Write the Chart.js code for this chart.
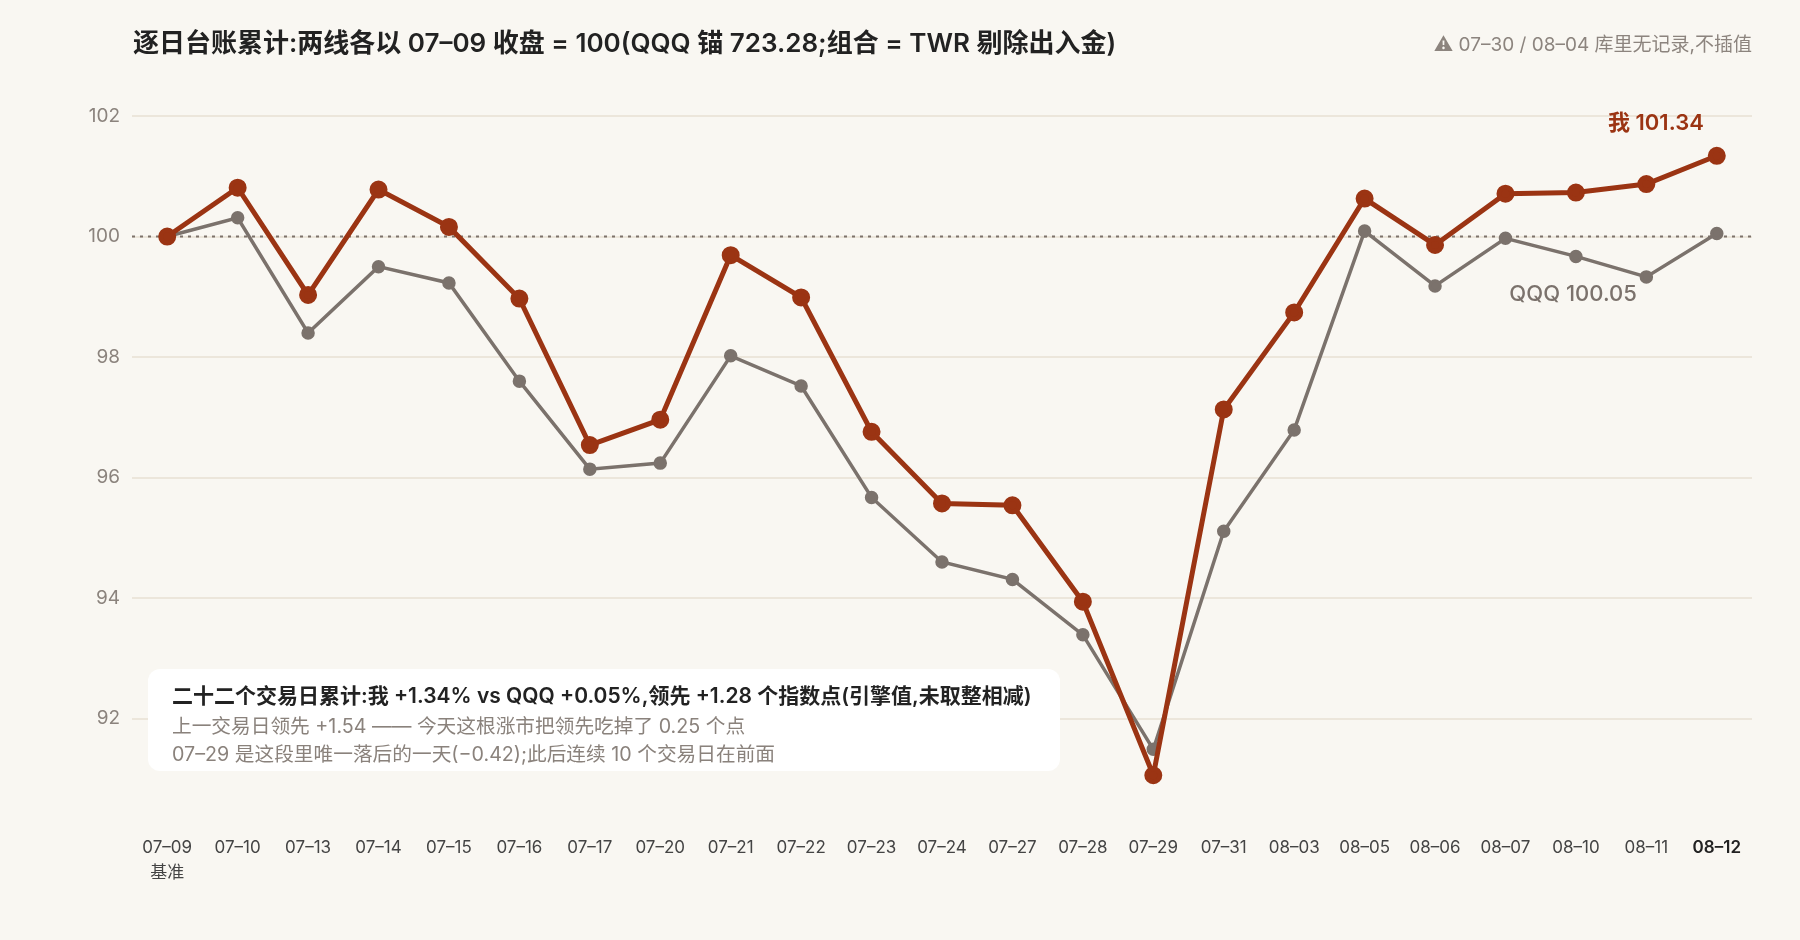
<!DOCTYPE html>
<html>
<head>
<meta charset="utf-8">
<script src="https://cdn.jsdelivr.net/npm/chart.js@4.4.1/dist/chart.umd.min.js"></script>
<style>
  html, body { margin: 0; padding: 0; background: #f9f7f2; }
  #wrap { width: 1800px; height: 940px; }
</style>
</head>
<body>
<div id="wrap"><canvas id="ledgerChart" width="1800" height="940"></canvas></div>
<script>
// trading days (07-30 and 08-04 missing in the ledger, not interpolated)
const days = ['07–09', '07–10', '07–13', '07–14', '07–15', '07–16', '07–17', '07–20', '07–21', '07–22', '07–23', '07–24',
              '07–27', '07–28', '07–29', '07–31', '08–03', '08–05', '08–06', '08–07', '08–10', '08–11', '08–12'];
const mine = [100, 100.81, 99.03, 100.78, 100.16, 98.97, 96.54, 96.96, 99.69, 98.99, 96.76, 95.57,
              95.54, 93.94, 91.06, 97.13, 98.74, 100.63, 99.86, 100.71, 100.73, 100.87, 101.34];
const qqq = [100, 100.31, 98.40, 99.50, 99.23, 97.60, 96.14, 96.24, 98.02, 97.52, 95.67, 94.60,
             94.31, 93.39, 91.49, 95.11, 96.79, 100.09, 99.18, 99.97, 99.67, 99.33, 100.05];
const yTicks = [92, 94, 96, 98, 100, 102];
const baseLine = 100;

const titleText = '逐日台账累计:两线各以 07–09 收盘 = 100(QQQ 锚 723.28;组合 = TWR 剔除出入金)';
const noteText = '⚠ 07–30 / 08–04 库里无记录,不插值';
const boxLines = [
    '二十二个交易日累计:我 +1.34% vs QQQ +0.05%,领先 +1.28 个指数点(引擎值,未取整相减)',
    '上一交易日领先 +1.54 —— 今天这根涨市把领先吃掉了 0.25 个点',
    '07–29 是这段里唯一落后的一天(−0.42);此后连续 10 个交易日在前面'
];

const FONT = 'Inter, "Noto Sans CJK SC", sans-serif';
const RED = '#9b3413';
const GREY = '#7b726c';
const last = days.length - 1;

// x labels: first one carries the "基准" line
const xLabels = days.map((d, i) => i === 0 ? [d, '基准'] : d);

// background, dotted 100 line, note box and end labels
const decorPlugin = {
    id: 'decor',
    beforeDraw(chart) {
        const c = chart.ctx;
        c.save();
        c.fillStyle = '#f9f7f2';
        c.fillRect(0, 0, chart.width, chart.height);
        c.textBaseline = 'middle';
        c.fillStyle = '#222';
        c.font = '600 26px ' + FONT;
        c.textAlign = 'left';
        c.fillText(titleText, 133, 44);
        c.fillStyle = '#8c847e';
        c.font = '19px Inter, "DejaVu Sans", "Noto Sans CJK SC", sans-serif';
        c.textAlign = 'right';
        c.fillText(noteText, 1752, 45);
        c.restore();
    },
    beforeDatasetsDraw(chart) {
        const c = chart.ctx;
        const area = chart.chartArea;
        const y = chart.scales.y.getPixelForValue(baseLine);
        c.save();
        c.strokeStyle = '#7d726b';
        c.lineWidth = 2;
        c.setLineDash([3, 5]);
        c.beginPath();
        c.moveTo(area.left, y);
        c.lineTo(area.right, y);
        c.stroke();
        c.setLineDash([]);

        // summary box
        c.fillStyle = '#ffffff';
        c.beginPath();
        c.roundRect(148, 669, 912, 102, 12);
        c.fill();
        c.textAlign = 'left';
        c.textBaseline = 'middle';
        c.fillStyle = '#222';
        c.font = '600 21px ' + FONT;
        c.fillText(boxLines[0], 172, 697);
        c.fillStyle = '#8a827c';
        c.font = '19.7px ' + FONT;
        c.fillText(boxLines[1], 172, 727);
        c.fillText(boxLines[2], 172, 755);
        c.restore();
    },
    afterDatasetsDraw(chart) {
        const c = chart.ctx;
        const xs = chart.scales.x, ys = chart.scales.y;
        const lx = xs.getPixelForValue(last);
        c.save();
        c.textAlign = 'right';
        c.textBaseline = 'middle';
        c.fillStyle = RED;
        c.font = '600 22px ' + FONT;
        c.fillText('我 ' + mine[last].toFixed(2), lx - 13, ys.getPixelForValue(mine[last]) - 32);
        c.fillStyle = GREY;
        c.font = '500 22px ' + FONT;
        c.fillText('QQQ ' + qqq[last].toFixed(2), lx - 80, ys.getPixelForValue(qqq[last]) + 61);
        c.restore();
    }
};

const ctx = document.getElementById('ledgerChart').getContext('2d');
const ledgerChart = new Chart(ctx, {
    type: 'line',
    data: {
        labels: xLabels,
        datasets: [{
            label: '我',
            data: mine,
            borderColor: RED,
            backgroundColor: RED,
            borderWidth: 5,
            pointRadius: 6.5,
            pointHoverRadius: 6.5,
            tension: 0
        }, {
            label: 'QQQ',
            data: qqq,
            borderColor: GREY,
            backgroundColor: GREY,
            borderWidth: 3.5,
            pointRadius: 5,
            pointHoverRadius: 5,
            tension: 0
        }]
    },
    options: {
        responsive: false,
        animation: false,
        devicePixelRatio: 1,
        layout: { padding: { top: 116, right: 48, left: 0, bottom: 0 } },
        plugins: {
            legend: { display: false },
            tooltip: { enabled: false }
        },
        scales: {
            x: {
                offset: true,
                grid: { display: false },
                border: { display: false },
                afterFit: function (scale) { scale.height = 131; },
                ticks: {
                    autoSkip: false,
                    maxRotation: 0,
                    padding: 19,
                    font: function (context) {
                        return context.index === last
                            ? { family: FONT, size: 17, weight: '600', lineHeight: 1.45 }
                            : { family: FONT, size: 17, lineHeight: 1.45 };
                    },
                    color: function (context) {
                        return context.index === last ? '#222' : '#444';
                    }
                }
            },
            y: {
                min: 90.5,
                max: 102,
                afterFit: function (scale) { scale.width = 132; },
                afterBuildTicks: function (scale) {
                    scale.ticks = yTicks.map(v => ({ value: v }));
                },
                grid: { color: '#ece6db', lineWidth: 2, drawTicks: false },
                border: { display: false },
                ticks: {
                    padding: 12,
                    color: '#8b837d',
                    font: { family: FONT, size: 19 }
                }
            }
        }
    },
    plugins: [decorPlugin]
});
</script>
</body>
</html>
